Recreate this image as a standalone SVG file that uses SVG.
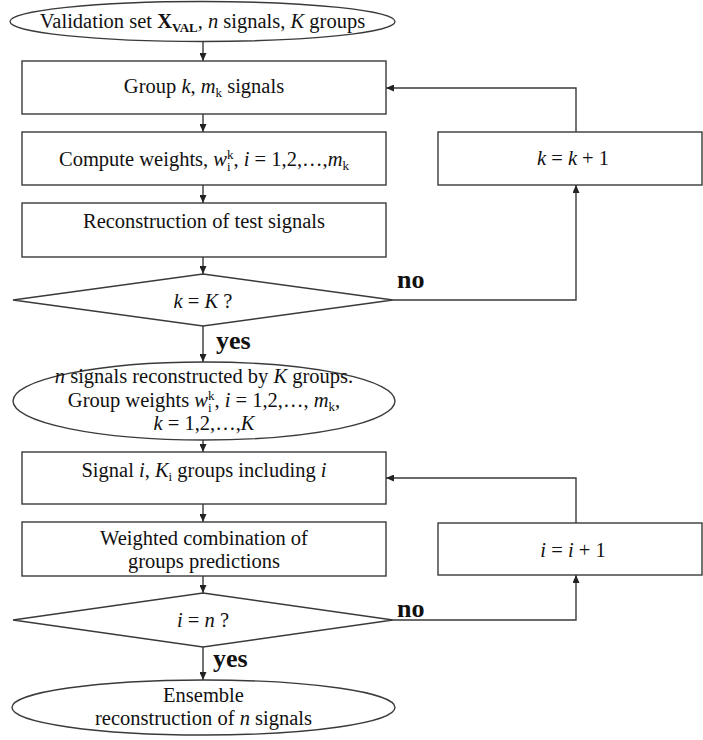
<svg xmlns="http://www.w3.org/2000/svg" width="703" height="740" viewBox="0 0 703 740">
<style>
.s{fill:#fff;stroke:#3a3a3a;stroke-width:1.4}
.c{fill:none;stroke:#3a3a3a;stroke-width:1.4}
text{font-family:"Liberation Serif","Times New Roman",serif;font-size:20.5px;fill:#111;text-anchor:middle}
.i{font-style:italic}
.b{font-weight:bold}
.yn{font-weight:bold;font-size:26px;text-anchor:start}
.sb{font-size:13px}
</style>
<defs>
<marker id="ah" markerWidth="8" markerHeight="7" refX="8" refY="3.5" orient="auto" markerUnits="userSpaceOnUse">
<path d="M0,0 L8,3.5 L0,7 z" fill="#222"/>
</marker>
</defs>
<rect width="703" height="740" fill="#fff"/>
<g id="connectors">
<path class="c" d="M203,42 V61" marker-end="url(#ah)"/>
<path class="c" d="M203,114 V132" marker-end="url(#ah)"/>
<path class="c" d="M203,185 V203" marker-end="url(#ah)"/>
<path class="c" d="M203,257 V274" marker-end="url(#ah)"/>
<path class="c" d="M203,326 V362" marker-end="url(#ah)"/>
<path class="c" d="M203,440 V452" marker-end="url(#ah)"/>
<path class="c" d="M203,504 V522" marker-end="url(#ah)"/>
<path class="c" d="M203,576 V593" marker-end="url(#ah)"/>
<path class="c" d="M203,647 V680" marker-end="url(#ah)"/>
<path class="c" d="M393,300 H576 V185" marker-end="url(#ah)"/>
<path class="c" d="M576,132 V88 H386" marker-end="url(#ah)"/>
<path class="c" d="M393,620 H576 V575" marker-end="url(#ah)"/>
<path class="c" d="M576,523 V478 H386" marker-end="url(#ah)"/>
<text class="yn" x="397" y="288">no</text>
<text class="yn" x="216" y="349">yes</text>
<text class="yn" x="397" y="617">no</text>
<text class="yn" x="213" y="667">yes</text>
</g>
<g id="start">
<ellipse class="s" cx="202.5" cy="21.5" rx="192.5" ry="20"/>
<text x="202.5" y="28">Validation set <tspan class="b">X</tspan><tspan class="b sb" dy="4">VAL</tspan><tspan dy="-4">, </tspan><tspan class="i">n</tspan> signals, <tspan class="i">K</tspan> groups</text>
</g>
<g id="group-k">
<rect class="s" x="22" y="61" width="364" height="53"/>
<text x="204" y="93">Group <tspan class="i">k</tspan>, <tspan class="i">m</tspan><tspan class="sb" dy="4">k</tspan><tspan dy="-4"> signals</tspan></text>
</g>
<g id="compute-weights">
<rect class="s" x="22" y="132" width="364" height="53"/>
<text x="204" y="166">Compute weights, <tspan class="i">w</tspan><tspan class="sb" dy="5">i</tspan><tspan class="sb" dx="-3.6" dy="-12">k</tspan><tspan dy="7">, </tspan><tspan class="i">i</tspan> = 1,2,…,<tspan class="i">m</tspan><tspan class="sb" dy="4">k</tspan></text>
</g>
<g id="reconstruction">
<rect class="s" x="22" y="203" width="364" height="54"/>
<text x="204" y="228">Reconstruction of test signals</text>
</g>
<g id="decision-k">
<polygon class="s" points="203,274 393,300 203,326 13,300"/>
<text x="203" y="308"><tspan class="i">k</tspan> = <tspan class="i">K</tspan> ?</text>
</g>
<g id="k-increment">
<rect class="s" x="438" y="132" width="264" height="53"/>
<text x="573" y="165"><tspan class="i">k</tspan> = <tspan class="i">k</tspan> + 1</text>
</g>
<g id="group-summary">
<ellipse class="s" cx="204" cy="401" rx="191" ry="39"/>
<text x="204" y="383"><tspan class="i">n</tspan> signals reconstructed by <tspan class="i">K</tspan> groups.</text>
<text x="204" y="407">Group weights <tspan class="i">w</tspan><tspan class="sb" dy="5">i</tspan><tspan class="sb" dx="-3.6" dy="-12">k</tspan><tspan dy="7">, </tspan><tspan class="i">i</tspan> = 1,2,…, <tspan class="i">m</tspan><tspan class="sb" dy="4">k</tspan><tspan dy="-4">,</tspan></text>
<text x="204" y="430"><tspan class="i">k</tspan> = 1,2,…,<tspan class="i">K</tspan></text>
</g>
<g id="signal-i">
<rect class="s" x="22" y="452" width="364" height="52"/>
<text x="204" y="477">Signal <tspan class="i">i</tspan>, <tspan class="i">K</tspan><tspan class="sb" dy="4">i</tspan><tspan dy="-4"> groups including </tspan><tspan class="i">i</tspan></text>
</g>
<g id="weighted-combination">
<rect class="s" x="22" y="522" width="364" height="54"/>
<text x="204" y="545">Weighted combination of</text>
<text x="204" y="568">groups predictions</text>
</g>
<g id="decision-i">
<polygon class="s" points="203,593 393,620 203,647 13,620"/>
<text x="203" y="627"><tspan class="i">i</tspan> = <tspan class="i">n</tspan> ?</text>
</g>
<g id="i-increment">
<rect class="s" x="438" y="523" width="264" height="52"/>
<text x="573" y="557"><tspan class="i">i</tspan> = <tspan class="i">i</tspan> + 1</text>
</g>
<g id="end">
<ellipse class="s" cx="203.5" cy="707.5" rx="191.5" ry="27.5"/>
<text x="203.5" y="702">Ensemble</text>
<text x="203.5" y="725">reconstruction of <tspan class="i">n</tspan> signals</text>
</g>
</svg>
